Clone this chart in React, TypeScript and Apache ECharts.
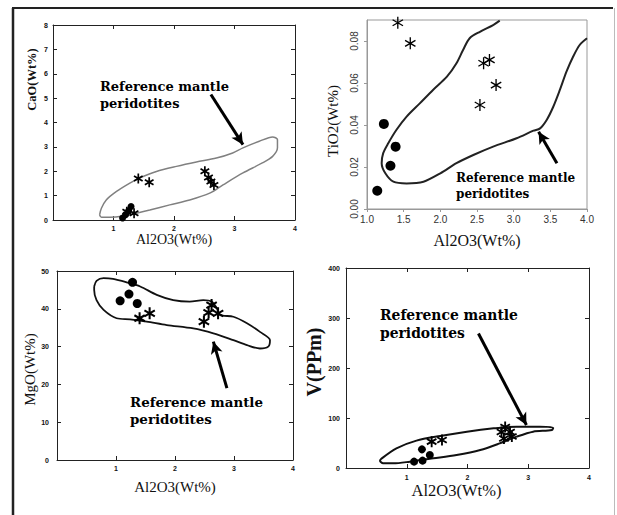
import React, { useEffect, useRef } from "react";
import * as echarts from "echarts";

// ---------- Panel 1: CaO vs Al2O3 ----------
const caoCircles = [[1.15, 0.08], [1.2, 0.22], [1.25, 0.38], [1.29, 0.55]];
const caoStars = [[1.41, 1.7], [1.59, 1.55], [2.51, 2.0], [2.57, 1.74], [2.61, 1.58], [2.66, 1.44], [1.22, 0.34], [1.34, 0.28]];
const caoEnvelope = [
  [0.77, 0.21], [0.8, 0.48], [0.88, 0.82], [1.05, 1.17], [1.27, 1.51], [1.43, 1.72], [1.71, 1.99], [2.04, 2.2],
  [2.37, 2.38], [2.7, 2.54], [2.97, 2.75], [3.14, 2.96], [3.41, 3.23], [3.63, 3.41], [3.71, 3.3], [3.71, 2.96],
  [3.63, 2.61], [3.46, 2.34], [3.14, 1.93], [2.81, 1.44], [2.59, 1.1], [2.26, 0.82], [1.93, 0.62], [1.6, 0.41],
  [1.38, 0.28], [1.16, 0.16], [0.94, 0.11], [0.8, 0.11], [0.77, 0.21],
];
const caoArrow = [[2.61, 5.15], [3.14, 3.09]];

// ---------- Panel 2: TiO2 vs Al2O3 ----------
const tioCircles = [[1.14, 0.0087], [1.23, 0.0405], [1.32, 0.0206], [1.39, 0.0297]];
const tioStars = [[1.42, 0.0887], [1.59, 0.0789], [2.59, 0.0694], [2.67, 0.071], [2.76, 0.059], [2.54, 0.0495]];
const tioEnvelope = [
  [2.81, 0.0897], [2.72, 0.0876], [2.54, 0.0844], [2.4, 0.0813], [2.31, 0.0757], [2.22, 0.0694], [2.09, 0.063],
  [1.9, 0.0567], [1.72, 0.0503], [1.54, 0.044], [1.4, 0.0376], [1.29, 0.0313], [1.22, 0.0265], [1.2, 0.0218],
  [1.25, 0.017], [1.36, 0.013], [1.54, 0.0122], [1.77, 0.013], [2.0, 0.017], [2.22, 0.0218], [2.45, 0.0257],
  [2.72, 0.0297], [3.04, 0.0337], [3.27, 0.0373], [3.36, 0.0384], [3.45, 0.0424], [3.54, 0.0487], [3.63, 0.0567],
  [3.72, 0.0654], [3.81, 0.0725], [3.9, 0.0781], [4.0, 0.0813],
];
const tioArrow = [[3.59, 0.0218], [3.34, 0.0368]];

// ---------- Panel 3: MgO vs Al2O3 ----------
const mgoCircles = [[1.07, 42.1], [1.22, 43.9], [1.28, 47.0], [1.36, 41.4]];
const mgoStars = [[1.4, 37.5], [1.57, 38.8], [2.62, 41.0], [2.57, 39.0], [2.49, 36.6], [2.73, 38.8]];
const mgoEnvelope = [
  [0.63, 45.9], [0.67, 47.4], [0.79, 48.1], [0.95, 47.9], [1.18, 47.0], [1.41, 45.9], [1.69, 43.7], [1.97, 42.3],
  [2.25, 41.9], [2.48, 42.3], [2.62, 41.9], [2.71, 40.1], [2.76, 38.4], [2.99, 37.9], [3.22, 36.2], [3.44, 33.9],
  [3.61, 31.7], [3.58, 30.0], [3.44, 29.5], [3.22, 30.4], [2.99, 31.7], [2.65, 33.5], [2.31, 34.8], [1.86, 35.7],
  [1.52, 36.6], [1.24, 37.2], [1.01, 37.5], [0.79, 39.7], [0.67, 42.3], [0.63, 45.0], [0.63, 45.9],
];
const mgoArrow = [[2.88, 19.0], [2.65, 31.3]];

// ---------- Panel 4: V vs Al2O3 ----------
const vCircles = [[1.12, 12.7], [1.26, 14.7], [1.25, 37.3], [1.38, 26]];
const vStars = [[1.41, 52.7], [1.58, 56], [2.62, 82], [2.56, 72], [2.7, 72], [2.6, 59], [2.73, 63]];
const vEnvelope = [
  [0.59, 19.3], [0.83, 39.3], [1.16, 54.7], [1.55, 64], [1.99, 72.7], [2.43, 79.3], [2.81, 82.7], [3.19, 82.7],
  [3.41, 80.7], [3.39, 76], [3.08, 72.7], [2.81, 62.7], [2.53, 49.3], [2.21, 36], [1.82, 26], [1.44, 19.3],
  [1.05, 12.7], [0.78, 9.3], [0.61, 9.3], [0.56, 14.7], [0.59, 19.3],
];
const vArrow = [[2.18, 269], [2.97, 86]];

const annotation = "Reference mantle\nperidotites";

function asterisk(w: number): string {
  const c = 10, L = 10;
  let d = "";
  for (let i = 0; i < 3; i++) {
    const th = Math.PI / 2 + (i * Math.PI) / 3;
    const dx = Math.cos(th), dy = Math.sin(th);
    const nx = -dy, ny = dx;
    const pts = [
      [c + L * dx + w * nx, c + L * dy + w * ny],
      [c + L * dx - w * nx, c + L * dy - w * ny],
      [c - L * dx - w * nx, c - L * dy - w * ny],
      [c - L * dx + w * nx, c - L * dy + w * ny],
    ];
    d += "M" + pts.map((p) => p[0].toFixed(2) + " " + p[1].toFixed(2)).join("L") + "Z";
  }
  return "path://" + d;
}

const DARK = "#222";
const tickLabelSmall = { fontSize: 7, fontWeight: "bold" as const, color: "#111", fontFamily: "Liberation Sans" };

function boxAxis(grid: number, min: number, max: number, interval: number, position: string, showLabel: boolean, labelMargin: number, hideZero: boolean) {
  return {
    type: "value",
    gridIndex: grid,
    min,
    max,
    interval,
    position,
    axisLine: { show: true, onZero: false, lineStyle: { color: DARK, width: 1 } },
    axisTick: { show: true, inside: true, length: 4, lineStyle: { color: DARK } },
    axisLabel: {
      show: showLabel,
      margin: labelMargin,
      ...tickLabelSmall,
      formatter: (v: number) => (hideZero && v === 0 ? "" : String(v)),
    },
    splitLine: { show: false },
  };
}

function envelopeSeries(x: number, y: number, data: number[][], color: string, width: number, arrow: number[][]) {
  return {
    type: "line",
    xAxisIndex: x,
    yAxisIndex: y,
    data,
    smooth: 0.3,
    symbol: "none",
    lineStyle: { color, width },
    silent: true,
    z: 2,
    markLine: {
      silent: true,
      symbol: ["none", "arrow"],
      symbolSize: [9, 12],
      lineStyle: { color: "#000", width: 3, type: "solid" },
      label: { show: false },
      data: [[{ coord: arrow[0] }, { coord: arrow[1] }]],
    },
  };
}

function scatter(x: number, y: number, data: number[][], symbol: string, size: number) {
  return {
    type: "scatter",
    xAxisIndex: x,
    yAxisIndex: y,
    data,
    symbol,
    symbolSize: size,
    symbolKeepAspect: true,
    itemStyle: { color: "#000", opacity: 1 },
    silent: true,
    z: 3,
  };
}

function annotationText(x: number, y: number, size: number, lh: number) {
  return {
    type: "text",
    x,
    y,
    z: 10,
    style: {
      text: annotation,
      fontFamily: "DejaVu Serif",
      fontWeight: "bold",
      fontSize: size,
      lineHeight: lh,
      fill: "#000",
      verticalAlign: "top",
      align: "left",
    },
  };
}

export default function App() {
  const ref = useRef<HTMLDivElement>(null);
  useEffect(() => {
    if (!ref.current) return;
    const chart = echarts.init(ref.current, null, { renderer: "svg" });
    const star1 = asterisk(1.7);
    const star2 = asterisk(1.1);
    const option: any = {
      animation: false,
      backgroundColor: "#fff",
      grid: [
        { left: 53, top: 25, width: 242, height: 195 },
        { left: 367, top: 20, width: 220, height: 189, show: true, borderColor: "#999", borderWidth: 1, backgroundColor: "transparent" },
        { left: 57, top: 271, width: 236, height: 189 },
        { left: 346, top: 268, width: 243, height: 200 },
      ],
      xAxis: [
        {
          ...boxAxis(0, 0, 4, 1, "bottom", true, 5, true),
          name: "Al2O3(Wt%)",
          nameLocation: "middle",
          nameGap: 9,
          nameTextStyle: { fontFamily: "Liberation Serif", fontSize: 14, color: "#111" },
        },
        boxAxis(0, 0, 4, 1, "top", false, 5, true),
        {
          type: "value",
          gridIndex: 1,
          min: 1,
          max: 4,
          interval: 0.5,
          position: "bottom",
          axisLine: { show: true, onZero: false, lineStyle: { color: "#999" } },
          axisTick: { show: true, inside: false, length: 3, lineStyle: { color: "#999" } },
          axisLabel: { fontSize: 10, color: "#333", fontFamily: "Liberation Sans", margin: 5, formatter: (v: number) => v.toFixed(1) },
          splitLine: { show: false },
          name: "Al2O3(Wt%)",
          nameLocation: "middle",
          nameGap: 23,
          nameTextStyle: { fontFamily: "Liberation Serif", fontSize: 16, color: "#111" },
        },
        {
          ...boxAxis(2, 0, 4, 1, "bottom", true, 5, true),
          name: "Al2O3(Wt%)",
          nameLocation: "middle",
          nameGap: 19,
          nameTextStyle: { fontFamily: "Liberation Serif", fontSize: 15, color: "#111" },
        },
        boxAxis(2, 0, 4, 1, "top", false, 5, true),
        {
          ...boxAxis(3, 0, 4, 1, "bottom", true, 6, true),
          name: "Al2O3(Wt%)",
          nameLocation: "middle",
          nameGap: 14,
          nameTextStyle: { fontFamily: "Liberation Serif", fontSize: 16.5, color: "#111", padding: [0, 22, 0, 0] },
        },
        boxAxis(3, 0, 4, 1, "top", false, 6, true),
      ],
      yAxis: [
        {
          ...boxAxis(0, 0, 8, 1, "left", true, 5, false),
          name: "CaO(Wt%)",
          nameLocation: "middle",
          nameGap: 15,
          nameTextStyle: { fontFamily: "Liberation Serif", fontWeight: "bold", fontSize: 12.5, color: "#111", padding: [0, 0, 0, 86] },
        },
        boxAxis(0, 0, 8, 1, "right", false, 5, false),
        {
          type: "value",
          gridIndex: 1,
          min: 0,
          max: 0.09,
          interval: 0.02,
          position: "left",
          axisLine: { show: true, onZero: false, lineStyle: { color: "#999" } },
          axisTick: { show: true, inside: false, length: 3, lineStyle: { color: "#999" } },
          axisLabel: { fontSize: 10, color: "#333", fontFamily: "Liberation Sans", margin: 8, rotate: 90, showMaxLabel: false, formatter: (v: number) => v.toFixed(2) },
          splitLine: { show: false },
          name: "TiO2(Wt%)",
          nameLocation: "middle",
          nameGap: 27,
          nameTextStyle: { fontFamily: "Liberation Serif", fontSize: 15, color: "#111", padding: [0, 13, 0, 0] },
        },
        {
          ...boxAxis(2, 0, 50, 10, "left", true, 8, false),
          name: "MgO(Wt%)",
          nameLocation: "middle",
          nameGap: 19,
          nameTextStyle: { fontFamily: "Liberation Serif", fontSize: 15, color: "#111", padding: [0, 8, 0, 0] },
        },
        boxAxis(2, 0, 50, 10, "right", false, 8, false),
        {
          ...boxAxis(3, 0, 400, 100, "left", true, 6, false),
          name: "V(PPm)",
          nameLocation: "middle",
          nameGap: 13,
          nameTextStyle: { fontFamily: "Liberation Serif", fontWeight: "bold", fontSize: 20, color: "#111", padding: [0, 0, 0, 12] },
        },
        boxAxis(3, 0, 400, 100, "right", false, 6, false),
      ],
      series: [
        envelopeSeries(0, 0, caoEnvelope, "#808080", 1.5, caoArrow),
        scatter(0, 0, caoCircles, "circle", 7),
        scatter(0, 0, caoStars, star1, 10),
        envelopeSeries(2, 2, tioEnvelope, "#222", 2, tioArrow),
        scatter(2, 2, tioCircles, "circle", 10),
        scatter(2, 2, tioStars, star2, 12),
        envelopeSeries(3, 3, mgoEnvelope, "#111", 1.8, mgoArrow),
        scatter(3, 3, mgoCircles, "circle", 9),
        scatter(3, 3, mgoStars, star1, 12),
        envelopeSeries(5, 5, vEnvelope, "#111", 2, vArrow),
        scatter(5, 5, vCircles, "circle", 8),
        scatter(5, 5, vStars, star1, 11),
      ],
      graphic: [
        { type: "line", shape: { x1: 13, y1: 8, x2: 13, y2: 515 }, style: { stroke: "#222", lineWidth: 2.5 } },
        { type: "line", shape: { x1: 12, y1: 8, x2: 613, y2: 8 }, style: { stroke: "#222", lineWidth: 2 } },
        { type: "line", shape: { x1: 614.5, y1: 8, x2: 614.5, y2: 515 }, style: { stroke: "#bbb", lineWidth: 1 } },
        annotationText(100, 78.3, 13, 17),
        annotationText(456, 170.5, 12, 15.5),
        annotationText(130, 394, 13.4, 16.5),
        annotationText(380, 305.5, 13.9, 18),
      ],
    };
    chart.setOption(option);
    return () => chart.dispose();
  }, []);
  return (
    <div
      ref={ref}
      style={{ position: "absolute", left: 0, top: 0, width: 617, height: 515, background: "#fff" }}
    />
  );
}
